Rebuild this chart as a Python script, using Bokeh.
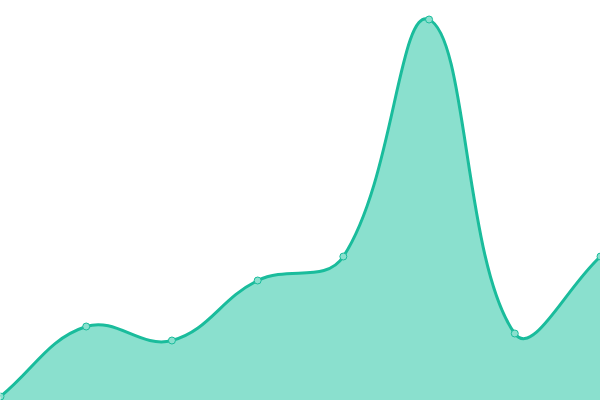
import numpy as np
from bokeh.plotting import figure
from bokeh.models import Range1d
from bokeh.embed import file_html
from bokeh.resources import INLINE

# Data
labels = ["P1", "P2", "P3", "P4", "P5", "P6", "P7", "P8"]
xs = [0, 1, 2, 3, 4, 5, 6, 7]
values = [4, 74, 60, 120, 144, 381, 67, 144]

LINE = "#1abc9c"
FILL = "#8ae0ce"
W, H = 600, 400
TENSION = 0.4

p = figure(width=W, height=H, output_backend="svg", toolbar_location=None,
           x_range=Range1d(0, 7), y_range=Range1d(0, 400),
           min_border=0, min_border_left=0, min_border_right=0,
           min_border_top=0, min_border_bottom=0)
p.axis.visible = False
p.grid.visible = False
p.outline_line_color = None
p.background_fill_color = "white"
p.border_fill_color = "white"

# Chart.js-like spline control points computed in screen space
sx = W / 7.0
sy = H / 400.0
px = [x * sx for x in xs]
py = [v * sy for v in values]
n = len(px)
cps = []
for i in range(n):
    pr = (px[i - 1], py[i - 1]) if i > 0 else (px[i], py[i])
    cu = (px[i], py[i])
    nx = (px[i + 1], py[i + 1]) if i < n - 1 else (px[i], py[i])
    d01 = np.hypot(cu[0] - pr[0], cu[1] - pr[1])
    d12 = np.hypot(nx[0] - cu[0], nx[1] - cu[1])
    tot = d01 + d12
    s01 = d01 / tot if tot else 0
    s12 = d12 / tot if tot else 0
    fa = TENSION * s01
    fb = TENSION * s12
    cpp = (cu[0] - fa * (nx[0] - pr[0]), cu[1] - fa * (nx[1] - pr[1]))
    cpn = (cu[0] + fb * (nx[0] - pr[0]), cu[1] + fb * (nx[1] - pr[1]))
    clamp = lambda c: (min(max(c[0], 0), W), min(max(c[1], 0), H))
    cps.append((clamp(cpp), clamp(cpn)))

bx0, by0, bx1, by1, bcx0, bcy0, bcx1, bcy1 = [], [], [], [], [], [], [], []
sample_x, sample_y = [], []
t = np.linspace(0, 1, 60)
for i in range(n - 1):
    p0 = np.array([px[i], py[i]])
    c0 = np.array(cps[i][1])
    c1 = np.array(cps[i + 1][0])
    p1 = np.array([px[i + 1], py[i + 1]])
    bx0.append(p0[0] / sx); by0.append(p0[1] / sy)
    bx1.append(p1[0] / sx); by1.append(p1[1] / sy)
    bcx0.append(c0[0] / sx); bcy0.append(c0[1] / sy)
    bcx1.append(c1[0] / sx); bcy1.append(c1[1] / sy)
    pts = ((1 - t) ** 3)[:, None] * p0 + (3 * (1 - t) ** 2 * t)[:, None] * c0 \
        + (3 * (1 - t) * t ** 2)[:, None] * c1 + (t ** 3)[:, None] * p1
    sl = slice(0 if i == 0 else 1, None)
    sample_x.extend(list(pts[sl, 0] / sx))
    sample_y.extend(list(pts[sl, 1] / sy))

p.varea(x=sample_x, y1=[0] * len(sample_x), y2=sample_y, fill_color=FILL)
p.bezier(x0=bx0, y0=by0, x1=bx1, y1=by1, cx0=bcx0, cy0=bcy0, cx1=bcx1, cy1=bcy1,
         line_color=LINE, line_width=3)
p.scatter(x=xs, y=values, size=7, fill_color=FILL, line_color=LINE, line_width=1)

html = file_html(p, INLINE)
html = html.replace("<body>", "<body style=\"margin:0;overflow:hidden\">", 1)
open("out.html", "w").write(html)
